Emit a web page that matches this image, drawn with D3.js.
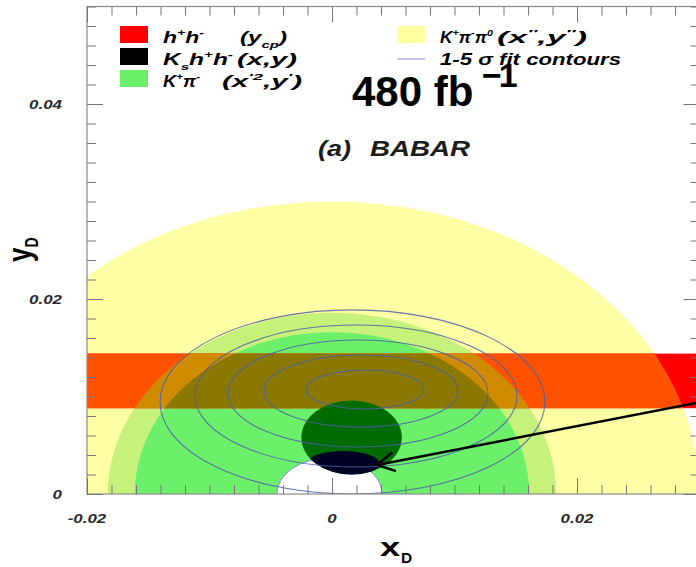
<!DOCTYPE html>
<html>
<head>
<meta charset="utf-8">
<script src="https://cdn.jsdelivr.net/npm/d3@7"></script>
<style>
  html, body { margin: 0; padding: 0; background: #fff; }
  svg { display: block; }
  text { font-family: "Liberation Sans", Arial, Helvetica, sans-serif; white-space: pre; }
</style>
</head>
<body>
<svg id="chart" width="696" height="567"></svg>
<script>
// ---- axis definitions ----
const xDomain = [-0.02, 0.03];
const yDomain = [0, 0.05];
const xMajorTicks = [-0.02, 0, 0.02];
const xMajorLabels = ["-0.02", "0", "0.02"];
const yMajorTicks = [0, 0.02, 0.04];
const yMajorLabels = ["0", "0.02", "0.04"];

// ---- allowed regions (centre x, centre y, radius x, radius y) ----
const kpipi0Region = [0.0, 0.0, 0.0300, 0.0300];   // K+pi-pi0 (x'',y'')
const kpiOuterRing = [0.0, 0.0, 0.0183, 0.0186];   // K+pi- outer level
const kpiInnerRing = [0.0, 0.0, 0.0161, 0.0166];   // K+pi- inner level
const kpiHole      = [-0.0002, 0.0, 0.0043, 0.0037];
const kshhOuter    = [0.0016, 0.0058, 0.0041, 0.0038]; // Ks h+h- (x,y)
const kshhCore     = [0.0009, 0.0031, 0.0030, 0.0013];
const ycpBand      = [0.0088, 0.0144];                  // h+h- y_CP band

// ---- combined fit contours, 1..5 sigma ----
const contourCx = [0.00269, 0.00237, 0.00212, 0.00196, 0.00167];
const contourCy = [0.01072, 0.01056, 0.01031, 0.01005, 0.00944];
const contourRx = [0.00482, 0.00792, 0.01061, 0.01314, 0.01571];
const contourRy = [0.00200, 0.00369, 0.00549, 0.00728, 0.00944];

// ---- annotation arrow (data coordinates) ----
const arrowFrom = [0.0300, 0.0094];
const arrowTo   = [0.00367, 0.00297];

// ---- legend ----
const legendLeft = [
  { color: "#ff0000",
    parts: [[{t:"h"},{t:"+",sup:1},{t:"h"},{t:"-",sup:1}], [{t:"(y"},{t:"cp",sub:1},{t:")"}]],
    widths: [41, 47], at: [163, 240] },
  { color: "#000000",
    parts: [[{t:"K"},{t:"s",sub:1},{t:"h"},{t:"+",sup:1},{t:"h"},{t:"-",sup:1}], [{t:"(x,y)"}]],
    widths: [70, 60], at: [163, 237] },
  { color: "#6cf06c",
    parts: [[{t:"K"},{t:"+",sup:1},{t:"π"},{t:"-",sup:1}], [{t:"(x"},{t:"′2",sup:1},{t:",y"},{t:"′",sup:1},{t:")"}]],
    widths: [37, 80], at: [163, 222] }
];
const legendRight = [
  { color: "#ffffa0",
    parts: [[{t:"K"},{t:"+",sup:1},{t:"π"},{t:"-",sup:1},{t:"π"},{t:"0",sup:1}], [{t:"(x"},{t:"″",sup:1},{t:",y"},{t:"″",sup:1},{t:")"}]],
    widths: [53, 90], at: [440, 497] },
  { line: "#8a8ae0",
    parts: [[{t:"1-5 σ fit contours"}]],
    widths: [181], at: [440] }
];

const svg = d3.select("#chart");
const x = d3.scaleLinear().domain(xDomain).range([87, 699.5]);
const y = d3.scaleLinear().domain(yDomain).range([494, 6.5]);
const defs = svg.append("defs");

const ell = (sel, e) => sel
  .attr("cx", x(e[0])).attr("cy", y(e[1]))
  .attr("rx", x(e[0] + e[2]) - x(e[0]))
  .attr("ry", y(e[1]) - y(e[1] + e[3]));

// clip paths
defs.append("clipPath").attr("id", "plotArea").append("rect")
  .attr("x", x(xDomain[0])).attr("y", y(yDomain[1]))
  .attr("width", x(xDomain[1]) - x(xDomain[0])).attr("height", y(yDomain[0]) - y(yDomain[1]));
[["clipYellow", kpipi0Region], ["clipLGreen", kpiOuterRing], ["clipBGreen", kpiInnerRing], ["clipKshh", kshhOuter]]
  .forEach(([id, e]) => defs.append("clipPath").attr("id", id).append("ellipse").call(ell, e));

const plot = svg.append("g").attr("clip-path", "url(#plotArea)");

// regions
plot.append("ellipse").call(ell, kpipi0Region).attr("fill", "#ffffa6");
plot.append("ellipse").call(ell, kpiOuterRing).attr("fill", "#c6f27c");
plot.append("ellipse").call(ell, kpiInnerRing).attr("fill", "#6cf06c");
plot.append("ellipse").call(ell, kpiHole).attr("fill", "#ffffff")
  .attr("stroke", "#8c8ce6").attr("stroke-width", 1);

// y_CP band, coloured by what lies beneath it
const band = (fill, clip) => {
  const g = clip ? plot.append("g").attr("clip-path", `url(#${clip})`) : plot;
  g.append("rect")
    .attr("x", x(xDomain[0])).attr("width", x(xDomain[1]) - x(xDomain[0]))
    .attr("y", y(ycpBand[1])).attr("height", y(ycpBand[0]) - y(ycpBand[1]))
    .attr("fill", fill);
};
band("#ff0000", null);
band("#ff5200", "clipYellow");
band("#d08c00", "clipLGreen");
band("#8a7800", "clipBGreen");

// Ks h+h- region
plot.append("ellipse").call(ell, kshhOuter).attr("fill", "#006b00");
plot.append("g").attr("clip-path", "url(#clipKshh)")
  .append("ellipse").call(ell, kshhCore).attr("fill", "#000022");

// fit contours
plot.append("g").selectAll("ellipse")
  .data(contourCx.map((cx, i) => [cx, contourCy[i], contourRx[i], contourRy[i]]))
  .join("ellipse")
  .each(function (d) { d3.select(this).call(ell, d); })
  .attr("fill", "none").attr("stroke", "#4b5fa6").attr("stroke-width", 1.1).attr("stroke-opacity", 0.85);

// frame and ticks
const axes = svg.append("g");
axes.append("rect")
  .attr("x", x(xDomain[0])).attr("y", y(yDomain[1]))
  .attr("width", x(xDomain[1]) - x(xDomain[0])).attr("height", y(yDomain[0]) - y(yDomain[1]))
  .attr("fill", "none").attr("stroke", "#8a8a8a").attr("stroke-width", 1.2);
const minorX = x.ticks(25), minorY = y.ticks(25);
const addAxis = (axis, tx, ty) => axes.append("g")
  .attr("transform", `translate(${tx},${ty})`).call(axis)
  .call(g => { g.select(".domain").remove(); g.selectAll("text").remove();
               g.selectAll("line").attr("stroke", "#777").attr("stroke-width", 1); });
addAxis(d3.axisBottom(x).tickValues(minorX).tickSize(-9), 0, y(0));
addAxis(d3.axisBottom(x).tickValues(xMajorTicks).tickSize(-16), 0, y(0));
addAxis(d3.axisTop(x).tickValues(minorX).tickSize(-9), 0, y(yDomain[1]));
addAxis(d3.axisTop(x).tickValues(xMajorTicks).tickSize(-16), 0, y(yDomain[1]));
addAxis(d3.axisLeft(y).tickValues(minorY).tickSize(-9), x(xDomain[0]), 0);
addAxis(d3.axisLeft(y).tickValues(yMajorTicks).tickSize(-16), x(xDomain[0]), 0);
addAxis(d3.axisRight(y).tickValues(minorY).tickSize(-9), x(xDomain[1]), 0);
addAxis(d3.axisRight(y).tickValues(yMajorTicks).tickSize(-16), x(xDomain[1]), 0);

// text helper: rich text with sub/superscripts, stretched horizontally
// either by a fixed factor (o.sx) or to a given overall width (o.width)
function rich(parent, px, py, parts, o) {
  const t = parent.append("text")
    .attr("font-size", o.size).attr("font-weight", "bold")
    .attr("font-style", o.italic ? "italic" : "normal")
    .attr("text-anchor", o.anchor || "start").attr("fill", o.fill || "#000");
  let shift = 0;
  parts.forEach(p => {
    const target = p.sup ? -o.size * 0.42 : p.sub ? o.size * 0.3 : 0;
    t.append("tspan").attr("dy", target - shift)
      .attr("font-size", (p.sup || p.sub) ? o.size * 0.62 : o.size).text(p.t);
    shift = target;
  });
  let sx = o.sx || 1;
  if (o.width) sx = o.width / t.node().getComputedTextLength();
  t.attr("transform", `translate(${px},${py}) scale(${sx},1)`);
  return t;
}

// tick labels
const labels = svg.append("g");
xMajorTicks.forEach((v, i) =>
  rich(labels, x(v), 523, [{t: xMajorLabels[i]}], {size: 13, sx: 1.3, italic: 1, anchor: "middle", fill: "#2a2a2a"}));
yMajorTicks.forEach((v, i) =>
  rich(labels, 62, y(v) + 4.5, [{t: yMajorLabels[i]}], {size: 13, sx: 1.3, italic: 1, anchor: "end", fill: "#2a2a2a"}));

// axis titles
rich(labels, 380, 556, [{t: "x"}], {size: 26, sx: 1.4});
rich(labels, 401, 563, [{t: "D"}], {size: 14, sx: 1.1});
labels.append("text")
  .attr("transform", "translate(30.5,262) rotate(-90) scale(1,1.3)")
  .attr("font-size", 26).attr("font-weight", "bold")
  .call(t => { t.append("tspan").text("y");
               t.append("tspan").attr("font-size", 14).attr("dy", 6).text("D"); });

// experiment label
rich(labels, 318, 156, [{t: "(a)"}], {size: 21.5, width: 33, italic: 1, fill: "#1c1c1c"});
rich(labels, 370, 156, [{t: "BABAR"}], {size: 21.5, width: 100, italic: 1, fill: "#1c1c1c"});

// legend
const leg = svg.append("g");
const legendRows = [43, 65, 87];
const drawLegend = (entries, sx0) => entries.forEach((e, i) => {
  const by = legendRows[i];
  if (e.line) {
    leg.append("line").attr("x1", sx0).attr("x2", sx0 + 28).attr("y1", by - 6).attr("y2", by - 6)
      .attr("stroke", e.line).attr("stroke-width", 1);
  } else {
    leg.append("rect").attr("x", sx0).attr("y", by - 17).attr("width", 28).attr("height", 17)
      .attr("fill", e.color);
  }
  e.parts.forEach((p, k) => rich(leg, e.at[k], by, p, {size: 16, width: e.widths[k], italic: 1}));
});
drawLegend(legendLeft, 120);
drawLegend(legendRight, 397);

// luminosity annotation
const ann = svg.append("g");
ann.append("text").attr("x", 352).attr("y", 106).attr("font-size", 42).attr("font-weight", "bold")
  .attr("fill", "#000").text("480 fb");
ann.append("text").attr("x", 482).attr("y", 87).attr("font-size", 34).attr("font-weight", "bold")
  .attr("letter-spacing", -3).attr("fill", "#000").text("−1");

// arrow pointing at the Ks h+h- region
const ax0 = x(arrowFrom[0]), ay0 = y(arrowFrom[1]), ax1 = x(arrowTo[0]), ay1 = y(arrowTo[1]);
const ang = Math.atan2(ay0 - ay1, ax0 - ax1), wing = 20, spread = 0.5;
ann.append("line").attr("x1", ax0).attr("y1", ay0).attr("x2", ax1).attr("y2", ay1)
  .attr("stroke", "#000").attr("stroke-width", 2.5);
ann.append("polyline")
  .attr("points", [
    [ax1 + wing * Math.cos(ang - spread), ay1 + wing * Math.sin(ang - spread)],
    [ax1, ay1],
    [ax1 + wing * Math.cos(ang + spread), ay1 + wing * Math.sin(ang + spread)]
  ].map(p => p.join(",")).join(" "))
  .attr("fill", "none").attr("stroke", "#000").attr("stroke-width", 2.5).attr("stroke-linejoin", "miter");
</script>
</body>
</html>
